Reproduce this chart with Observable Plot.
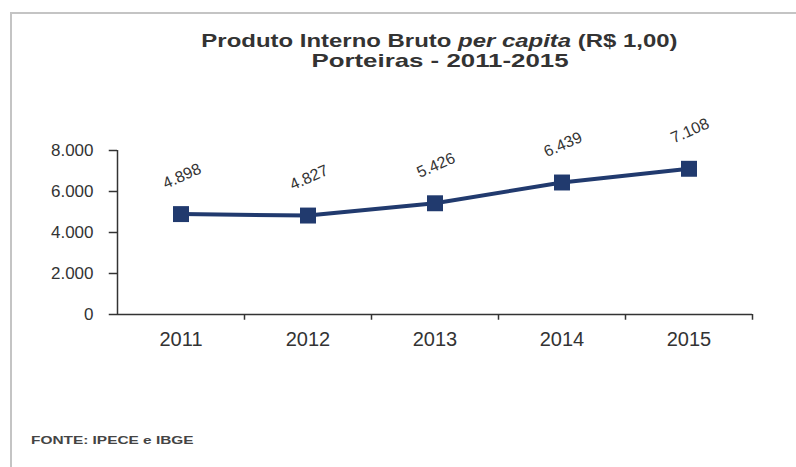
<!DOCTYPE html>
<html>
<head>
<meta charset="utf-8">
<script src="https://cdn.jsdelivr.net/npm/d3@7"></script>
<script src="https://cdn.jsdelivr.net/npm/@observablehq/plot@0.6"></script>
<style>
  html, body { margin: 0; padding: 0; background: #fff; }
  #wrap { position: relative; width: 796px; height: 467px; overflow: hidden; font-family: "Liberation Sans", Arial, sans-serif; }
  #frame { position: absolute; left: 10px; top: 12px; right: -10px; bottom: -10px; border-left: 2px solid #c4c4c4; border-top: 2px solid #c4c4c4; }
  .tline { position: absolute; left: 0; width: 880px; text-align: center; font-weight: bold; font-size: 19px; line-height: 20px; color: #333; }
  #t1 { top: 31px; transform: scaleX(1.26); transform-origin: 442px 0; }
  #t2 { top: 51px; transform: scaleX(1.36); transform-origin: 440px 0; }
  #source { position: absolute; left: 31px; top: 434px; font-weight: bold; font-size: 11px; color: #444; transform: scaleX(1.4); transform-origin: 0 0; }
  #chart { position: absolute; left: 0; top: 0; }
</style>
</head>
<body>
<div id="wrap">
  <div id="frame"></div>
  <div id="chart"></div>
  <div class="tline" id="t1">Produto Interno Bruto <i>per capita</i> (R$ 1,00)</div>
  <div class="tline" id="t2">Porteiras - 2011-2015</div>
  <div id="source">FONTE: IPECE e IBGE</div>
</div>
<script>
const years = [2011, 2012, 2013, 2014, 2015];
const values = [4898, 4827, 5426, 6439, 7108];
const yTicks = [0, 2000, 4000, 6000, 8000];

const fmt = d3.formatLocale({decimal: ",", thousands: ".", grouping: [3], currency: ["R$", ""]}).format(",d");
const data = years.map((y, i) => ({year: y, value: values[i]}));
const separators = years.map(y => y + 0.5);
const navy = "#213a6e";
const x0 = years[0] - 0.5;

const chart = Plot.plot({
  width: 796,
  height: 467,
  marginLeft: 117,
  marginRight: 44,
  marginTop: 150,
  marginBottom: 153,
  style: {fontFamily: "'Liberation Sans', Arial, sans-serif", background: "transparent", color: "#333"},
  x: {type: "linear", domain: [x0, years[years.length - 1] + 0.5], axis: null},
  y: {type: "linear", domain: [0, 8000], axis: null},
  marks: [
    Plot.ruleY([0], {stroke: "#333", strokeWidth: 1.5}),
    Plot.ruleX([x0], {y1: 0, y2: 8000, stroke: "#333", strokeWidth: 1.5}),
    Plot.ruleX(separators, {y1: 0, y2: -280, stroke: "#333", strokeWidth: 1.5}),
    Plot.ruleY(yTicks, {x1: x0 - 0.065, x2: x0, stroke: "#333", strokeWidth: 1.5}),
    Plot.text(yTicks, {x: x0, y: d => d, text: d => fmt(d), textAnchor: "end", dx: -24, fontSize: 17, fill: "#333"}),
    Plot.text(years, {x: d => d, y: 0, text: d => String(d), dy: 25, fontSize: 20, fill: "#333"}),
    Plot.line(data, {x: "year", y: "value", stroke: navy, strokeWidth: 4}),
    Plot.dot(data, {x: "year", y: "value", symbol: "square", r: 9, fill: navy, stroke: null}),
    Plot.text(data, {x: "year", y: "value", text: d => fmt(d.value), dy: -38, dx: 1, rotate: -24, fontSize: 16, fill: "#333"})
  ]
});
document.getElementById("chart").appendChild(chart);
</script>
</body>
</html>
